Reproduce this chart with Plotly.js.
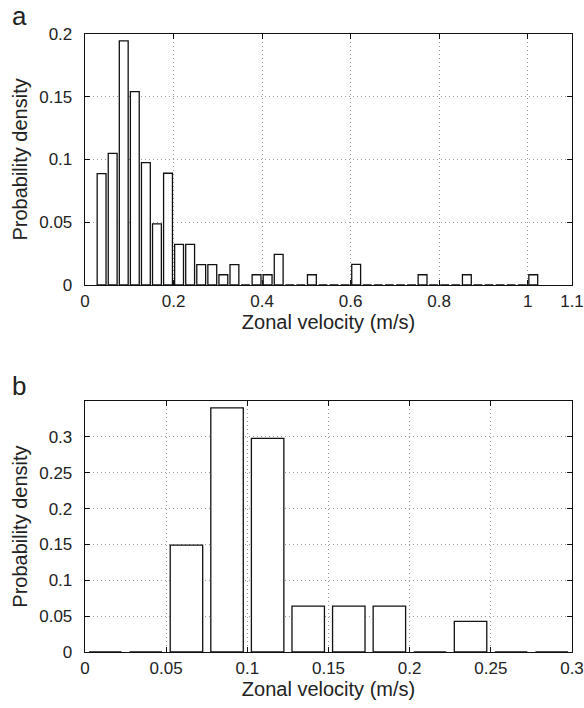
<!DOCTYPE html>
<html>
<head>
<meta charset="utf-8">
<script src="https://cdn.plot.ly/plotly-3.0.1.min.js"></script>
<style>html,body{margin:0;padding:0;background:#fff;}#chart{width:584px;height:708px;}</style>
</head>
<body>
<div id="chart"></div>
<script>
// Panel a: bin centres (m/s) and probability density
var centersA = [0.0375,0.0625,0.0875,0.1125,0.1375,0.1625,0.1875,0.2125,0.2375,0.2625,
  0.2875,0.3125,0.3375,0.3625,0.3875,0.4125,0.4375,0.4625,0.4875,0.5125,
  0.5375,0.5625,0.5875,0.6125,0.6375,0.6625,0.6875,0.7125,0.7375,0.7625,
  0.7875,0.8125,0.8375,0.8625,0.8875,0.9125,0.9375,0.9625,0.9875,1.0125];
var densityA = [0.0887,0.1048,0.1945,0.1540,0.0974,0.0487,0.0890,0.0323,0.0323,0.0161,
  0.0161,0.0081,0.0161,0,0.0081,0.0081,0.0243,0,0,0.0081,
  0,0,0,0.0164,0,0,0,0,0,0.0081,
  0,0,0,0.0081,0,0,0,0,0,0.0081];
var xTicksA = [0,0.2,0.4,0.6,0.8,1,1.1];
var xTickTextA = ['0','0.2','0.4','0.6','0.8','1','1.1'];
var yTicksA = [0,0.05,0.1,0.15,0.2];
var yTickTextA = ['0','0.05','0.1','0.15','0.2'];

// Panel b
var centersB = [0.0125,0.0375,0.0625,0.0875,0.1125,0.1375,0.1625,0.1875,0.2125,0.2375,0.2625,0.2875];
var densityB = [0,0,0.149,0.3405,0.298,0.064,0.064,0.064,0,0.0426,0,0];
var xTicksB = [0,0.05,0.1,0.15,0.2,0.25,0.3];
var xTickTextB = ['0','0.05','0.1','0.15','0.2','0.25','0.3'];
var yTicksB = [0,0.05,0.1,0.15,0.2,0.25,0.3];
var yTickTextB = ['0','0.05','0.1','0.15','0.2','0.25','0.3'];

var xTitle = 'Zonal velocity (m/s)';
var yTitle = 'Probability density';

var barStyle = {color:'#ffffff', line:{color:'#111111', width:1.3}};
var traces = [
  {type:'bar', x:centersA, y:densityA, width:0.02, marker:barStyle, xaxis:'x', yaxis:'y', hoverinfo:'none'},
  {type:'bar', x:centersB, y:densityB, width:0.02, marker:barStyle, xaxis:'x2', yaxis:'y2', hoverinfo:'none'}
];

var fontFam = 'Liberation Sans, Arial, Helvetica, sans-serif';
function ax(extra){
  var base = {
    showline:true, linecolor:'#111', linewidth:1.3, mirror:'ticks',
    ticks:'inside', ticklen:5, tickwidth:1, tickcolor:'#111',
    showgrid:true, gridcolor:'#9a9a9a', griddash:'1px,3px', gridwidth:1,
    zeroline:false, tickmode:'array', fixedrange:true,
    tickfont:{family:fontFam, size:17, color:'#222'}
  };
  for (var k in extra) base[k] = extra[k];
  return base;
}

var layout = {
  width:584, height:708,
  margin:{l:85, r:12, t:34, b:56},
  paper_bgcolor:'#fff', plot_bgcolor:'#fff',
  showlegend:false, bargap:0,
  font:{family:fontFam, color:'#222'},
  xaxis: ax({domain:[0,1], range:[0,1.1], tickvals:xTicksA, ticktext:xTickTextA, anchor:'y',
    title:{text:xTitle, font:{family:fontFam, size:20, color:'#222'}, standoff:4}}),
  yaxis: ax({domain:[0.594,1], range:[0,0.2], tickvals:yTicksA, ticktext:yTickTextA, anchor:'x', ticklabelstandoff:8,
    title:{text:yTitle, font:{family:fontFam, size:20, color:'#222'}, standoff:6}}),
  xaxis2: ax({domain:[0,1], range:[0,0.3], tickvals:xTicksB, ticktext:xTickTextB, anchor:'y2',
    title:{text:xTitle, font:{family:fontFam, size:20, color:'#222'}, standoff:4}}),
  yaxis2: ax({domain:[0,0.406], range:[0,0.35], tickvals:yTicksB, ticktext:yTickTextB, anchor:'x2', ticklabelstandoff:8,
    title:{text:yTitle, font:{family:fontFam, size:20, color:'#222'}, standoff:6}}),
  annotations:[
    {text:'a', xref:'paper', yref:'paper', x:-0.154, y:1.029, xanchor:'left', yanchor:'middle', showarrow:false,
     font:{family:fontFam, size:26, color:'#222'}},
    {text:'b', xref:'paper', yref:'paper', x:-0.154, y:0.43, xanchor:'left', yanchor:'middle', showarrow:false,
     font:{family:fontFam, size:26, color:'#222'}}
  ]
};

Plotly.newPlot('chart', traces, layout, {displayModeBar:false, staticPlot:true});
</script>
</body>
</html>
